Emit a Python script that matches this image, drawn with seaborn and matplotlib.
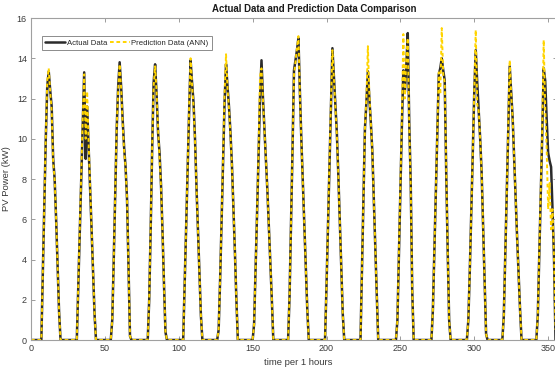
import numpy as np
import pandas as pd
import matplotlib
matplotlib.use("Agg")
import matplotlib.pyplot as plt
import seaborn as sns

# ---------------- data ----------------
# hourly PV power, one list per day, values for hours 6..20 of that day (0 elsewhere)
n_hours = 356
first_hour = 6
actual_days = [
    [0, 0, 3.3, 6.7, 10.0, 12.6, 13.35, 12.4, 11.6, 9.0, 8.0, 6.0, 3.7, 1.4, 0],
    [0, 0, 2.7, 5.4, 8.1, 10.8, 13.3, 9.0, 11.6, 9.6, 7.6, 5.5, 3.4, 1.3, 0],
    [0, 1.0, 4.0, 7.3, 10.5, 12.6, 13.8, 12.6, 11.0, 9.6, 8.6, 7.0, 3.5, 0.2, 0],
    [0, 0, 2.0, 5.5, 9.5, 12.8, 13.7, 12.2, 10.3, 9.3, 7.7, 5.4, 2.8, 0.4, 0],
    [0, 0, 2.7, 5.6, 8.5, 11.3, 13.9, 12.8, 11.8, 10.0, 7.6, 5.5, 3.4, 1.2, 0],
    [0, 0.5, 3.0, 6.0, 9.0, 11.8, 13.7, 12.6, 11.6, 10.3, 8.7, 6.6, 4.4, 2.0, 0],
    [0, 0.8, 3.5, 6.3, 9.2, 12.0, 13.9, 12.0, 10.5, 9.1, 7.4, 5.6, 3.9, 2.0, 0],
    [0, 2.2, 5.8, 9.5, 13.4, 13.9, 14.4, 15.0, 12.3, 9.9, 7.8, 5.7, 3.6, 1.5, 0],
    [0, 0, 2.7, 5.7, 8.7, 11.7, 14.5, 13.1, 11.7, 10.3, 8.2, 5.9, 3.6, 1.3, 0],
    [0, 0, 3.5, 7.0, 10.5, 11.8, 13.35, 12.0, 10.8, 9.4, 7.0, 4.7, 2.3, 0, 0],
    [0, 0, 1.0, 4.2, 7.4, 10.6, 13.4, 12.3, 13.6, 15.25, 10.8, 7.8, 2.5, 0, 0],
    [0, 0, 1.5, 4.4, 7.3, 10.2, 13.2, 13.5, 14.0, 13.4, 12.9, 8.4, 4.5, 1.0, 0],
    [0, 0, 1.0, 3.5, 6.3, 9.3, 12.3, 14.4, 12.8, 11.4, 10.0, 8.3, 5.6, 3.0, 0.3],
    [0, 0, 1.2, 4.2, 7.2, 10.4, 13.6, 12.3, 11.0, 9.0, 6.9, 5.1, 3.3, 1.5, 0],
    [0, 1.2, 4.2, 7.2, 10.2, 13.5, 12.9, 11.0, 9.3, 8.9, 8.6, 6.4, 4.0, 0],
]
predicted_days = [
    [0, 0, 3.3, 6.8, 10.1, 12.9, 13.5, 12.3, 11.4, 8.8, 8.0, 6.0, 3.7, 1.4, 0],
    [0, 0, 2.7, 5.5, 8.2, 11.0, 13.2, 10.0, 12.35, 9.8, 7.7, 5.5, 3.4, 1.3, 0],
    [0, 1.0, 4.0, 7.3, 10.6, 12.4, 13.7, 12.5, 10.8, 9.4, 8.6, 7.0, 3.5, 0.2, 0],
    [0, 0, 2.0, 5.6, 9.6, 12.6, 13.6, 12.3, 10.5, 9.0, 7.6, 5.4, 2.8, 0.4, 0],
    [0, 0, 2.7, 5.6, 8.6, 11.5, 14.0, 12.7, 11.6, 9.9, 7.6, 5.5, 3.4, 1.2, 0],
    [0, 0.5, 3.0, 6.0, 9.1, 12.2, 14.2, 12.5, 11.5, 10.2, 8.6, 6.6, 4.4, 2.0, 0],
    [0, 0.8, 3.5, 6.3, 9.3, 13.1, 13.5, 11.9, 10.4, 9.0, 7.4, 5.6, 3.9, 2.0, 0],
    [0, 2.2, 5.8, 9.6, 13.2, 13.8, 14.5, 15.1, 12.2, 9.8, 7.8, 5.7, 3.6, 1.5, 0],
    [0, 0, 2.7, 5.7, 8.7, 11.8, 14.4, 13.0, 11.6, 10.2, 8.2, 5.9, 3.6, 1.3, 0],
    [0, 0, 3.5, 7.0, 10.5, 12.0, 14.6, 12.2, 10.8, 9.4, 7.0, 4.7, 2.3, 0, 0],
    [0, 0, 1.0, 4.3, 7.6, 11.0, 15.2, 12.0, 14.0, 15.0, 10.6, 7.6, 2.5, 0, 0],
    [0, 0, 1.5, 4.4, 7.4, 10.4, 13.3, 12.2, 15.5, 13.2, 12.8, 8.5, 4.5, 1.0, 0],
    [0, 0, 1.0, 3.5, 6.3, 9.3, 12.4, 15.4, 11.7, 11.4, 10.0, 8.3, 5.6, 3.0, 0.3],
    [0, 0, 1.2, 4.2, 7.3, 10.6, 13.9, 12.2, 11.0, 9.0, 6.9, 5.1, 3.3, 1.5, 0],
    [0, 1.2, 4.2, 7.4, 10.5, 14.9, 11.5, 9.5, 6.5, 7.8, 5.5, 6.5, 4.0, 0.5],
]
x_ticks = [0, 50, 100, 150, 200, 250, 300, 350]
y_ticks = [0, 2, 4, 6, 8, 10, 12, 14, 16]


def to_series(days):
    s = np.zeros(n_hours)
    for d, vals in enumerate(days):
        start = 24 * d + first_hour
        stop = min(start + len(vals), n_hours)
        s[start:stop] = vals[:stop - start]
    return s


hours = np.arange(n_hours)
df = pd.DataFrame({"t": hours,
                   "actual": to_series(actual_days),
                   "pred": to_series(predicted_days)})

# ---------------- plot ----------------
sns.set_theme(style="white")
plt.rcParams["font.family"] = ["Liberation Sans", "DejaVu Sans"]

fig = plt.figure(figsize=(5.55, 3.73), dpi=100)
ax = fig.add_axes([31 / 555, 1 - 340 / 373, 526 / 555, 322 / 373])

sns.lineplot(data=df, x="t", y="actual", ax=ax, color="#2b2b2b", lw=1.8,
             label="Actual Data", errorbar=None)
sns.lineplot(data=df, x="t", y="pred", ax=ax, color="#FFD400", lw=1.4,
             linestyle=(0, (1.9, 1.4)), label="Prediction Data (ANN)", errorbar=None)

ax.set_xlim(0, 356)
ax.set_ylim(0, 16)
ax.set_xticks(x_ticks)
ax.set_yticks(y_ticks)
ax.tick_params(direction="in", length=3, width=0.6, colors="#8c8c8c",
               labelcolor="#3a3a3a", labelsize=6.5, top=True, right=True,
               bottom=True, left=True, pad=3)
for sp in ax.spines.values():
    sp.set_color("#a0a0a0")
    sp.set_linewidth(0.8)

ax.set_title("Actual Data and Prediction Data Comparison", fontsize=6.9,
             fontweight="bold", color="#1a1a1a", pad=4, x=0.538)
ax.set_xlabel("time per 1 hours", fontsize=6.8, color="#3a3a3a", labelpad=2)
ax.xaxis.set_label_coords(0.508, -0.055)
ax.set_ylabel("PV Power (kW)", fontsize=6.8, color="#3a3a3a", labelpad=4)

leg = ax.legend(loc="upper left", bbox_to_anchor=(0.021, 0.944), borderaxespad=0,
                ncol=2, fontsize=5.6, handlelength=2.6, handletextpad=0.2,
                columnspacing=0.3, borderpad=0.4, fancybox=False, framealpha=1)
leg.get_frame().set_edgecolor("#8c8c8c")
leg.get_frame().set_linewidth(0.7)

fig.savefig("out.png", dpi=100)
